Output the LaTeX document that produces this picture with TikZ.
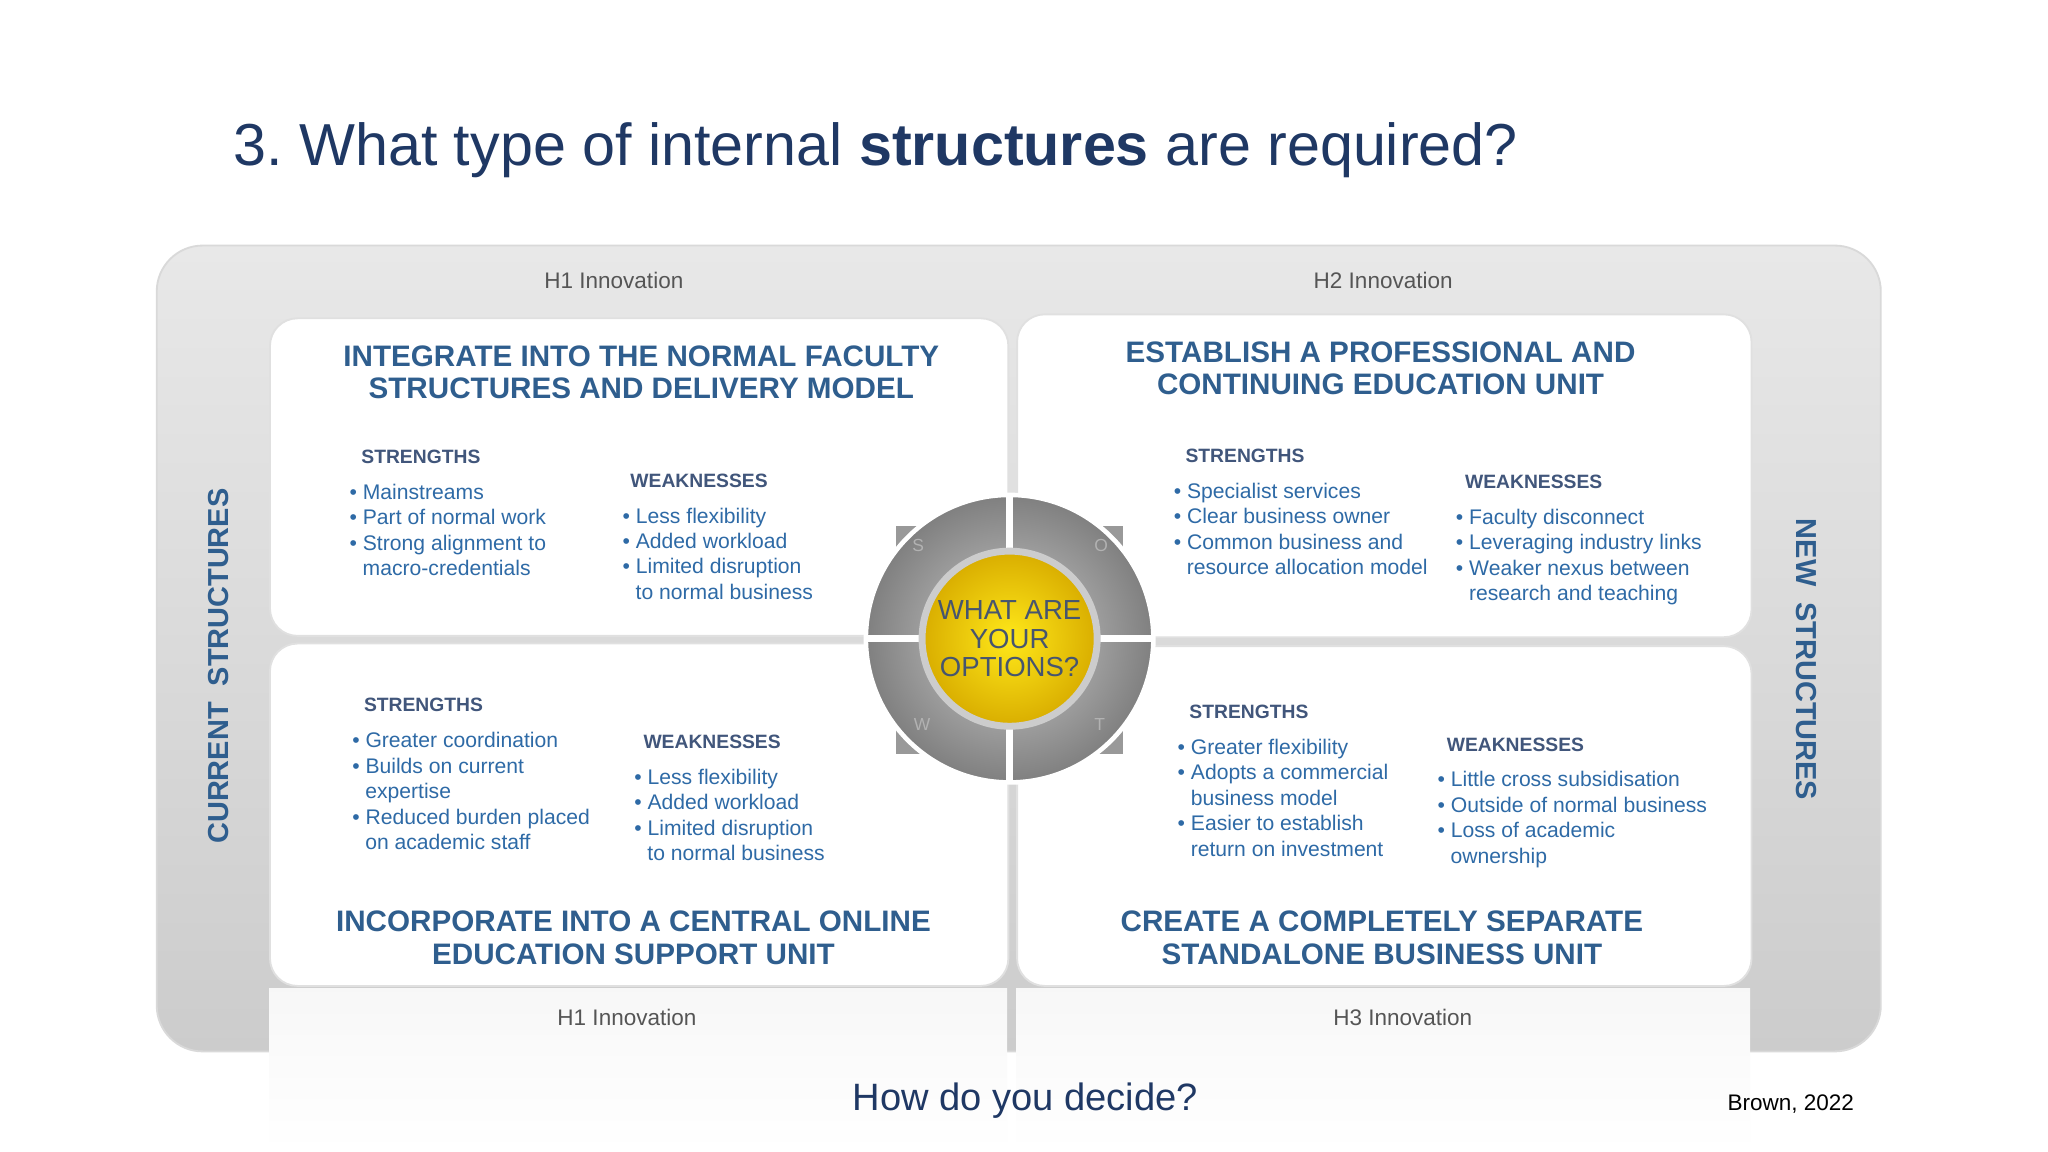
\documentclass[tikz,border=0pt]{standalone}
\usepackage{fontspec}
\setmainfont{Liberation Sans}
\frenchspacing
\definecolor{navy}{HTML}{1F3864}
\definecolor{head}{HTML}{2F5E8E}
\definecolor{bodyc}{HTML}{2E6AA6}
\definecolor{gry}{HTML}{555555}
\tikzset{
 quad/.style={draw=black!12,fill=white,rounded corners=6pt},
 heading/.style={text=head,font=\fontsize{6.45}{7.1}\selectfont\bfseries,align=center,inner sep=0},
 sub/.style={text=navy!85,font=\fontsize{4.2}{5}\selectfont\bfseries,anchor=base west,inner sep=0},
 body/.style={text=bodyc,font=\fontsize{4.6}{5.55}\selectfont,align=left,anchor=north west,inner sep=0},
 hlab/.style={text=gry,font=\fontsize{4.9}{6}\selectfont,inner sep=0},
 side/.style={text=head,font=\fontsize{6.3}{7}\selectfont\bfseries,inner sep=0}
}
\newcommand\bb{\textbullet\ }
\newcommand\cc{\hspace*{0.1cm}}
\begin{document}
\begin{tikzpicture}[x=0.01cm,y=-0.01cm]
\useasboundingbox (0,0) rectangle (1568,882);
\fill[white] (0,0) rectangle (1568,882);
\node[text=navy,font=\fontsize{12.9}{14}\selectfont,anchor=base west,inner sep=0] (title) at (178,127) {3. What type of internal \textbf{structures} are required?};
% outer panel
\shade[top color=black!9,bottom color=black!20,rounded corners=10pt,draw=black!15] (120,188) rectangle (1440,805);
% reflection
\shade[top color=black!3,bottom color=white] (206,757) rectangle (771,882);
\shade[top color=black!3,bottom color=white] (778,757) rectangle (1340,882);
\node[quad,minimum width=5.65cm,minimum height=2.43cm,anchor=north west] (tl) at (206,243) {};
\node[quad,minimum width=5.62cm,minimum height=2.47cm,anchor=north west] (tr) at (778,240) {};
\node[quad,minimum width=5.65cm,minimum height=2.62cm,anchor=north west] (bl) at (206,492) {};
\node[quad,minimum width=5.62cm,minimum height=2.60cm,anchor=north west] (br) at (778,494) {};
\node[hlab] (h1a) at (470,215) {H1 Innovation};
\node[hlab] (h2) at (1059,215) {H2 Innovation};
\node[hlab] (h1b) at (480,779) {H1 Innovation};
\node[hlab] (h3) at (1074,779) {H3 Innovation};
\node[side,rotate=90] (cur) at (167,510) {CURRENT\ \ STRUCTURES};
\node[side,rotate=-90] (new) at (1383,505) {NEW\ \ STRUCTURES};
% headings
\node[heading] (htl) at (491,285) {INTEGRATE INTO THE NORMAL FACULTY\\STRUCTURES AND DELIVERY MODEL};
\node[heading] (htr) at (1057,282) {ESTABLISH A PROFESSIONAL AND\\CONTINUING EDUCATION UNIT};
\node[heading] (hbl) at (485,718) {INCORPORATE INTO A CENTRAL ONLINE\\EDUCATION SUPPORT UNIT};
\node[heading] (hbr) at (1058,718) {CREATE A COMPLETELY SEPARATE\\STANDALONE BUSINESS UNIT};
% TL
\node[sub] (s1) at (276,355) {STRENGTHS};
\node[body] (s1l) at (267,370) {\bb Mainstreams\\\bb Part of normal work\\\bb Strong alignment to\\\cc macro-credentials};
\node[sub] (w1) at (482,373) {WEAKNESSES};
\node[body] (w1l) at (476,388) {\bb Less flexibility\\\bb Added workload\\\bb Limited disruption\\\cc to normal business};
% TR
\node[sub] (s2) at (907,354) {STRENGTHS};
\node[body] (s2l) at (898,369) {\bb Specialist services\\\bb Clear business owner\\\bb Common business and\\\cc resource allocation model};
\node[sub] (w2) at (1121,374) {WEAKNESSES};
\node[body] (w2l) at (1114,389) {\bb Faculty disconnect\\\bb Leveraging industry links\\\bb Weaker nexus between\\\cc research and teaching};
% BL
\node[sub] (s3) at (278,545) {STRENGTHS};
\node[body] (s3l) at (269,560) {\bb Greater coordination\\\bb Builds on current\\\cc expertise\\\bb Reduced burden placed\\\cc on academic staff};
\node[sub] (w3) at (492,573) {WEAKNESSES};
\node[body] (w3l) at (485,588) {\bb Less flexibility\\\bb Added workload\\\bb Limited disruption\\\cc to normal business};
% BR
\node[sub] (s4) at (910,550) {STRENGTHS};
\node[body] (s4l) at (901,565) {\bb Greater flexibility\\\bb Adopts a commercial\\\cc business model\\\bb Easier to establish\\\cc return on investment};
\node[sub] (w4) at (1107,575) {WEAKNESSES};
\node[body] (w4l) at (1100,590) {\bb Little cross subsidisation\\\bb Outside of normal business\\\bb Loss of academic\\\cc ownership};
% centre
\fill[black!40] (686,403) rectangle (860,577);
\shade[inner color=black!20,outer color=black!50,draw=white,line width=1pt] (773,489) circle (1.1cm);
\draw[white,line width=1.5pt] (773,379) -- (773,599) (663,489) -- (883,489);
\shade[inner color=yellow!80!orange!90!white,outer color=yellow!60!orange!85!black,draw=black!20,line width=1.5pt] (773,489) circle (0.67cm);
\node[text=navy!60!gray,font=\fontsize{6}{6.3}\selectfont,align=center,inner sep=0] (q) at (773,489) {WHAT ARE\\YOUR\\OPTIONS?};
\foreach \l/\x/\y in {S/703/418,O/843/418,W/706/555,T/842/555}
  \node[text=black!30,font=\fontsize{3.8}{4}\selectfont,inner sep=0] (L\l) at (\x,\y) {\l};
\node[text=navy,font=\fontsize{8.3}{9}\selectfont,inner sep=0] (how) at (785,843) {How do you decide?};
\node[font=\fontsize{4.9}{6}\selectfont,inner sep=0] (br22) at (1371,845) {Brown, 2022};
\end{tikzpicture}
\end{document}
